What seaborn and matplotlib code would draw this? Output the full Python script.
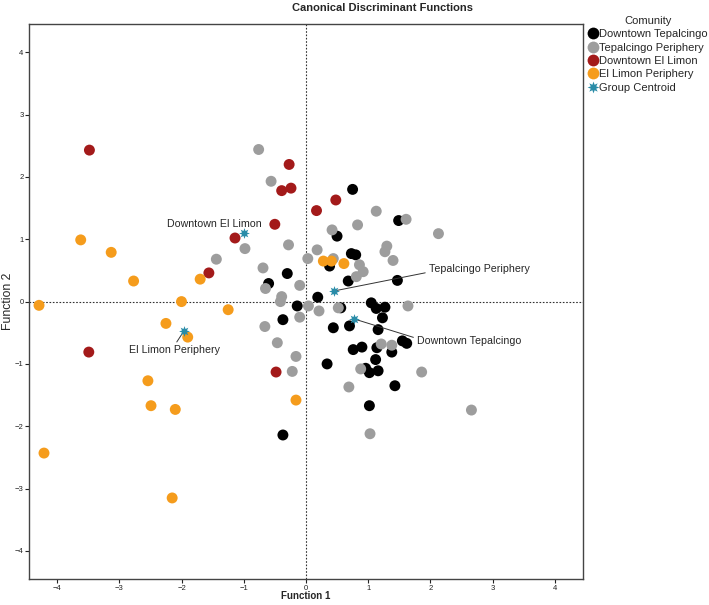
import pandas as pd
import seaborn as sns
import matplotlib.pyplot as plt
from matplotlib.lines import Line2D

groups = ["Downtown Tepalcingo", "Tepalcingo Periphery", "Downtown El Limon", "El Limon Periphery"]
colors = ["#000000", "#9d9d9d", "#a31a1a", "#f59c1c"]
centroid_color = "#2a8ca8"

# Downtown Tepalcingo (black)
dt_x = [0.75, 1.49, 0.50, 0.73, 0.80, 0.38, 0.68, 1.47, -0.30, -0.60, 0.19, -0.14,
        0.56, 1.05, 1.13, 1.27, 1.23, -0.37, 0.44, 0.70, 1.16, 0.76, 0.90, 1.14,
        1.38, 1.55, 1.62, 1.12, 0.34, 0.96, 1.02, 1.16, 1.43, 1.02, -0.37]
dt_y = [1.80, 1.30, 1.05, 0.77, 0.75, 0.57, 0.33, 0.34, 0.45, 0.29, 0.07, -0.07,
        -0.10, -0.02, -0.11, -0.09, -0.26, -0.29, -0.42, -0.39, -0.45, -0.77, -0.73, -0.74,
        -0.81, -0.63, -0.67, -0.93, -1.00, -1.07, -1.14, -1.11, -1.35, -1.67, -2.14]

# Tepalcingo Periphery (grey)
tp_x = [-0.76, -0.56, 1.13, 1.61, 2.13, 0.83, 0.42, -0.98, -1.44, -0.28, 0.18, 1.30,
        1.27, 0.03, 0.44, 1.40, 0.86, 0.92, 0.81, -0.69, -0.65, -0.10, -0.39, -0.41,
        0.04, 0.21, 0.52, 1.64, -0.10, -0.66, -0.46, 1.21, 1.38, -0.16, 0.88, 1.86,
        0.69, 2.66, 1.03, -0.22]
tp_y = [2.44, 1.93, 1.45, 1.32, 1.09, 1.23, 1.15, 0.85, 0.68, 0.91, 0.83, 0.89,
        0.80, 0.69, 0.69, 0.66, 0.59, 0.48, 0.40, 0.54, 0.21, 0.26, 0.08, 0.00,
        -0.07, -0.15, -0.10, -0.07, -0.25, -0.40, -0.66, -0.68, -0.70, -0.88, -1.08, -1.13,
        -1.37, -1.74, -2.12, -1.12]

# Downtown El Limon (dark red)
de_x = [-3.48, -3.49, -1.56, -1.14, -0.27, -0.39, -0.24, 0.48, 0.17, -0.50, -0.48]
de_y = [2.43, -0.81, 0.46, 1.02, 2.20, 1.78, 1.82, 1.63, 1.46, 1.24, -1.13]

# El Limon Periphery (orange)
ep_x = [-4.29, -3.62, -3.13, -2.77, -2.00, -1.70, -1.25, -2.25, -1.90, -2.54, -2.49,
        -2.10, -4.21, -2.15, 0.28, 0.41, 0.61, -0.16]
ep_y = [-0.06, 0.99, 0.79, 0.33, 0.00, 0.36, -0.13, -0.35, -0.57, -1.27, -1.67,
        -1.73, -2.43, -3.15, 0.65, 0.65, 0.61, -1.58]

# group centroids, same order as groups
centroid_x = [0.78, 0.45, -0.99, -1.96]
centroid_y = [-0.28, 0.17, 1.10, -0.47]

ticks = [-4, -3, -2, -1, 0, 1, 2, 3, 4]

df = pd.concat([
    pd.DataFrame({"f1": dt_x, "f2": dt_y, "Comunity": groups[0]}),
    pd.DataFrame({"f1": tp_x, "f2": tp_y, "Comunity": groups[1]}),
    pd.DataFrame({"f1": de_x, "f2": de_y, "Comunity": groups[2]}),
    pd.DataFrame({"f1": ep_x, "f2": ep_y, "Comunity": groups[3]}),
], ignore_index=True)

sns.set_theme(style="white")
plt.rcParams["font.family"] = ["Liberation Sans", "DejaVu Sans"]

fig = plt.figure(figsize=(7.09, 6.05), dpi=100)
ax = fig.add_axes([0.041, 0.043, 0.781, 0.917])

ax.axhline(0, color="#333333", ls=(0, (1.5, 1.5)), lw=0.8, zorder=0)
ax.axvline(0, color="#333333", ls=(0, (1.5, 1.5)), lw=0.8, zorder=0)

sns.scatterplot(data=df, x="f1", y="f2", hue="Comunity", hue_order=groups,
                palette=colors, s=62, edgecolor="none", linewidth=0, ax=ax, legend=False)
ax.scatter(centroid_x, centroid_y, marker=(8, 1, 0), s=60, color=centroid_color,
           linewidths=0, zorder=4)

ax.set_xlim(-4.45, 4.45)
ax.set_ylim(-4.45, 4.45)
ax.set_xticks(ticks)
ax.set_yticks(ticks)
ax.tick_params(axis="both", direction="out", length=3, width=0.8, labelsize=5.5,
               pad=1, colors="#222222", bottom=True, left=True)
for sp in ax.spines.values():
    sp.set_color("#444444")
    sp.set_linewidth(1.0)

ax.set_xlabel("Function 1", fontsize=7, fontweight="bold")
ax.set_ylabel("Function 2", fontsize=8.8)
ax.xaxis.set_label_coords(0.5, -0.022)
ax.yaxis.set_label_coords(-0.028, 0.5)

fig.text(0.54, 0.987, "Canonical Discriminant Functions", ha="center", va="center",
         fontsize=8, fontweight="bold")

# centroid labels
line_kw = dict(arrowstyle="-", color="#333333", lw=0.7, shrinkA=0, shrinkB=2)
ax.annotate("Tepalcingo Periphery", xy=(centroid_x[1], centroid_y[1]), xytext=(1.97, 0.52),
            ha="left", va="center", fontsize=7.7,
            arrowprops=dict(relpos=(0, 0.2), **line_kw))
ax.annotate("Downtown Tepalcingo", xy=(centroid_x[0], centroid_y[0]), xytext=(1.78, -0.63),
            ha="left", va="center", fontsize=7.7,
            arrowprops=dict(relpos=(0, 0.75), **line_kw))
ax.annotate("El Limon Periphery", xy=(centroid_x[3], centroid_y[3]), xytext=(-2.11, -0.70),
            ha="center", va="top", fontsize=7.7,
            arrowprops=dict(relpos=(0.5, 1.0), **line_kw))
ax.text(-1.47, 1.24, "Downtown El Limon", ha="center", va="center", fontsize=7.7)

handles = [Line2D([], [], ls="none", marker="o", markersize=8.5, color=c, markeredgewidth=0)
           for c in colors]
handles.append(Line2D([], [], ls="none", marker=(8, 1, 0), markersize=8.5,
                      color=centroid_color, markeredgewidth=0))
labels = groups + ["Group Centroid"]
leg = ax.legend(handles, labels, title="Comunity", loc="upper left",
                bbox_to_anchor=(1.01, 1.015), frameon=False, fontsize=8,
                title_fontsize=8, handlelength=0.8, handletextpad=0.15,
                labelspacing=0.3, borderpad=0, borderaxespad=0)

fig.savefig("out.png", dpi=100)
